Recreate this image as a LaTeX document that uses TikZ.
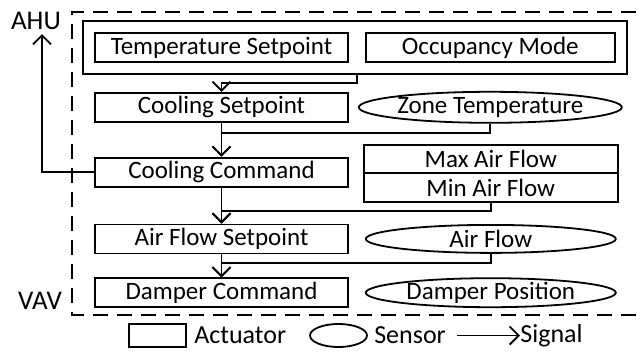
\documentclass[tikz,border=0pt]{standalone}
\usepackage{fontspec}
\setmainfont{Carlito}
\usetikzlibrary{shapes.geometric, arrows.meta, positioning, fit, calc}

\begin{document}
\begin{tikzpicture}[
	every node/.style={font=\fontsize{12.5}{14}\selectfont},
	%% Node styles
	actuator/.style={rectangle, draw=black, line width=0.9pt,
		minimum width=126.5pt, minimum height=14.5pt,
		inner sep=0pt, align=center},
	sensor/.style={ellipse, draw=black, line width=0.9pt,
		minimum width=125pt, minimum height=14.5pt,
		inner xsep=0pt, inner ysep=-1.5pt, align=center},
	group/.style={rectangle, draw=black, line width=0.9pt, inner sep=5.5pt},
	tag/.style={font=\fontsize{13.5}{15}\selectfont, inner sep=0pt},
	legtxt/.style={font=\fontsize{13}{15}\selectfont, inner sep=0pt, anchor=west},
	%% Line styles
	sig/.style={-{Straight Barb[length=4.5pt,width=9pt]}, line width=0.9pt},
	region/.style={line width=0.9pt, dash pattern=on 7.5pt off 4.5pt},
	]
	\useasboundingbox (0,0) rectangle (321.5pt,-177pt);
	
	%% ── Controller box (dashed, open to the right) ───────────────────
	\draw[region] (330pt,-6pt) -- (36pt,-6pt) -- (36pt,-157.5pt) -- (330pt,-157.5pt);
	\node[tag] (ahu) at (18pt,-10.5pt)  {AHU};
	\node[tag] (vav) at (20pt,-150.5pt) {VAV};
	
	%% ── Left column: actuators ───────────────────────────────────────
	\node[actuator] (tset) at (110.75pt,-23.75pt) {Temperature Setpoint};
	\node[actuator, below=14.5pt of tset] (csp)  {Cooling Setpoint};
	\node[actuator, below=17pt of csp]    (ccmd) {Cooling Command};
	\node[actuator, below=18pt of ccmd]   (afsp) {Air Flow Setpoint};
	\node[actuator, below=11.5pt of afsp] (dcmd) {Damper Command};
	
	%% ── Right column: inputs ─────────────────────────────────────────
	\node[actuator, right=8pt of tset, minimum width=124.5pt] (occ) {Occupancy Mode};
	\node[sensor, right=4.5pt of csp, minimum width=131pt, minimum height=15.5pt]
		(ztemp) {Zone Temperature};
	\node[actuator, right=7pt of ccmd, anchor=north west, minimum width=127pt] (minaf)
		{Min Air Flow};
	\node[actuator, above=-0.9pt of minaf, minimum width=127pt, minimum height=14pt] (maxaf)
		{Max Air Flow};
	\node[sensor, right=8pt of afsp, minimum height=14pt] (af) {Air Flow};
	\node[sensor, right=8pt of dcmd] (dpos) {Damper Position};
	
	%% schedule group round the two top boxes
	\node[group, fit=(tset) (occ)] (grp) {};
	\coordinate (gap) at ($(tset.east)!0.5!(occ.west)$);
	
	%% ── Signals ──────────────────────────────────────────────────────
	\draw[sig] (grp.south -| gap) -- ++(0,-4pt) -| (csp.north);
	\draw[sig] (csp)   -- (ccmd);
	\draw[sig] (ztemp.south) -- ++(0,-4.5pt) -| (ccmd.north);
	\draw[sig] (ccmd)  -- (afsp);
	\draw[sig] (minaf.south) -- ++(0,-4pt) -| (afsp.north);
	\draw[sig] (afsp)  -- (dcmd);
	\draw[sig] (af.south) -- ++(0,-4.5pt) -| (dcmd.north);
	
	%% cooling command out to the AHU
	\draw[sig] (ccmd.west) -| ([xshift=3pt,yshift=-2pt]ahu.south);
	
	%% ── Legend ───────────────────────────────────────────────────────
	\node[actuator, minimum width=28.5pt, minimum height=11.5pt] (legact)
		at (78.75pt,-167.75pt) {};
	\node[legtxt, right=3.5pt of legact] (legacttxt) {Actuator};
	\node[sensor, minimum width=28.5pt, minimum height=11.5pt] (legsen)
		at (169.25pt,-167.75pt) {};
	\node[legtxt, right=3pt of legsen] (legsentxt) {Sensor};
	\coordinate (legsig) at (228.5pt,-167.75pt);
	\node[legtxt] (legsigtxt) at (260pt,-167.75pt) {Signal};
	\draw[sig] (legsig) -- (legsigtxt.west);
	
\end{tikzpicture}
\end{document}
